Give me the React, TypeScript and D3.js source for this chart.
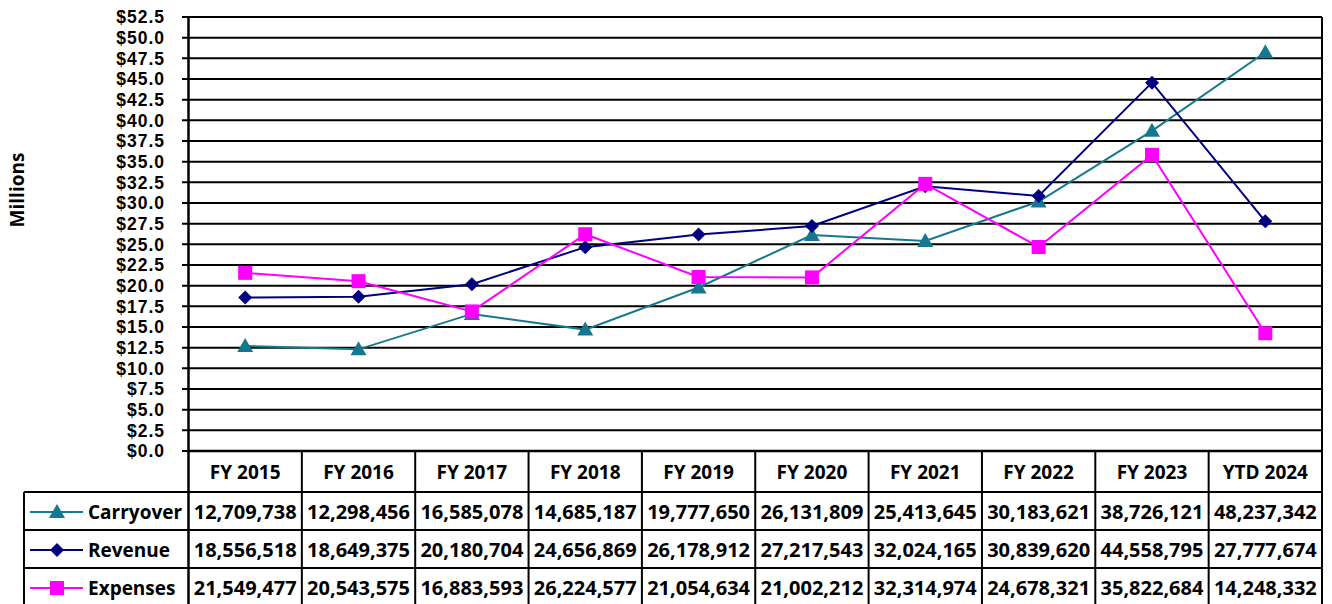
import * as d3 from "d3";

const categories = ["FY 2015", "FY 2016", "FY 2017", "FY 2018", "FY 2019", "FY 2020", "FY 2021", "FY 2022", "FY 2023", "YTD 2024"];
const carryover = [12709738, 12298456, 16585078, 14685187, 19777650, 26131809, 25413645, 30183621, 38726121, 48237342];
const revenue = [18556518, 18649375, 20180704, 24656869, 26178912, 27217543, 32024165, 30839620, 44558795, 27777674];
const expenses = [21549477, 20543575, 16883593, 26224577, 21054634, 21002212, 32314974, 24678321, 35822684, 14248332];
const yTicks = d3.range(0, 52.51, 2.5);

const series = [
  { name: "Carryover", values: carryover, color: "#16788E", marker: "triangle" },
  { name: "Revenue", values: revenue, color: "#000080", marker: "diamond" },
  { name: "Expenses", values: expenses, color: "#FF00FF", marker: "square" },
];

const W = 1332;
const H = 604;
const plotLeft = 188.5;
const plotRight = 1322;
const plotTop = 17;
const plotBottom = 451;
const tableLeft = 24;
const rowLines = [492, 530, 568, 606];
const font = "'Open Sans', sans-serif";

function Marker({ type, x, y, color }: { type: string; x: number; y: number; color: string }) {
  if (type === "triangle") {
    return <path d={`M${x},${y - 8}L${x + 8},${y + 6}L${x - 8},${y + 6}Z`} fill={color} />;
  }
  if (type === "diamond") {
    return <path d={`M${x},${y - 7}L${x + 7},${y}L${x},${y + 7}L${x - 7},${y}Z`} fill={color} />;
  }
  return <rect x={x - 7} y={y - 7} width={14} height={14} fill={color} />;
}

export default function App() {
  const x = d3.scaleBand().domain(categories).range([plotLeft, plotRight]);
  const y = d3.scaleLinear().domain([0, 52.5]).range([plotBottom, plotTop]);
  const cx = (c: string) => (x(c) ?? 0) + x.bandwidth() / 2;
  const fmtTick = d3.format("$.1f");
  const fmtVal = d3.format(",");
  const line = d3
    .line<number>()
    .x((_, i) => cx(categories[i]))
    .y((v) => y(v / 1e6));

  return (
    <div style={{ position: "absolute", left: 0, top: 0 }}>
      <svg width={W} height={H} style={{ display: "block", fontFamily: font }}>
        <rect width={W} height={H} fill="#fff" />
        {/* gridlines and ticks */}
        {yTicks.map((t) => (
          <g key={t}>
            <line x1={182} x2={plotRight} y1={y(t)} y2={y(t)} stroke="#000" strokeWidth={2} />
            <text
              x={165}
              y={y(t)}
              dy="0.36em"
              textAnchor="end"
              fontFamily="'Liberation Sans', Arial, sans-serif"
              fontSize={17.5}
              letterSpacing={1}
              fontWeight="bold"
            >
              {fmtTick(t)}
            </text>
          </g>
        ))}
        <text transform={`translate(24,190) rotate(-90)`} textAnchor="middle" fontSize={19} fontWeight="bold">
          Millions
        </text>

        {/* table grid */}
        <line x1={plotLeft} x2={plotLeft} y1={plotTop} y2={H} stroke="#000" strokeWidth={2.5} />
        <line x1={plotRight} x2={plotRight} y1={plotTop} y2={H} stroke="#000" strokeWidth={2} />
        <line x1={plotLeft} x2={plotRight} y1={plotBottom} y2={plotBottom} stroke="#000" strokeWidth={2.5} />
        {categories.slice(1).map((c) => (
          <line key={c} x1={x(c)} x2={x(c)} y1={plotBottom} y2={H} stroke="#000" strokeWidth={2} />
        ))}
        {rowLines.map((r) => (
          <line key={r} x1={tableLeft} x2={plotRight} y1={r} y2={r} stroke="#000" strokeWidth={2} />
        ))}
        <line x1={tableLeft} x2={tableLeft} y1={rowLines[0]} y2={H} stroke="#000" strokeWidth={2} />

        {categories.map((c) => (
          <text key={c} x={cx(c)} y={(plotBottom + rowLines[0]) / 2 + 1} dy="0.36em" textAnchor="middle" fontSize={19} fontWeight="bold">
            {c}
          </text>
        ))}

        {series.map((s, si) => {
          const rowMid = (rowLines[si] + rowLines[si + 1]) / 2 + 1;
          return (
            <g key={s.name}>
              <line x1={30} x2={83} y1={rowMid} y2={rowMid} stroke={s.color} strokeWidth={2} />
              <Marker type={s.marker} x={57} y={rowMid} color={s.color} />
              <text x={88} y={rowMid} dy="0.36em" fontSize={19} fontWeight="bold">
                {s.name}
              </text>
              {s.values.map((v, i) => (
                <text key={i} x={cx(categories[i])} y={rowMid} dy="0.36em" textAnchor="middle" fontSize={20} fontWeight="bold">
                  {fmtVal(v)}
                </text>
              ))}
            </g>
          );
        })}

        {/* lines */}
        {series.map((s) => (
          <g key={s.name}>
            <path d={line(s.values) ?? ""} fill="none" stroke={s.color} strokeWidth={2} />
            {s.values.map((v, i) => (
              <Marker key={i} type={s.marker} x={cx(categories[i])} y={y(v / 1e6)} color={s.color} />
            ))}
          </g>
        ))}
      </svg>
    </div>
  );
}
